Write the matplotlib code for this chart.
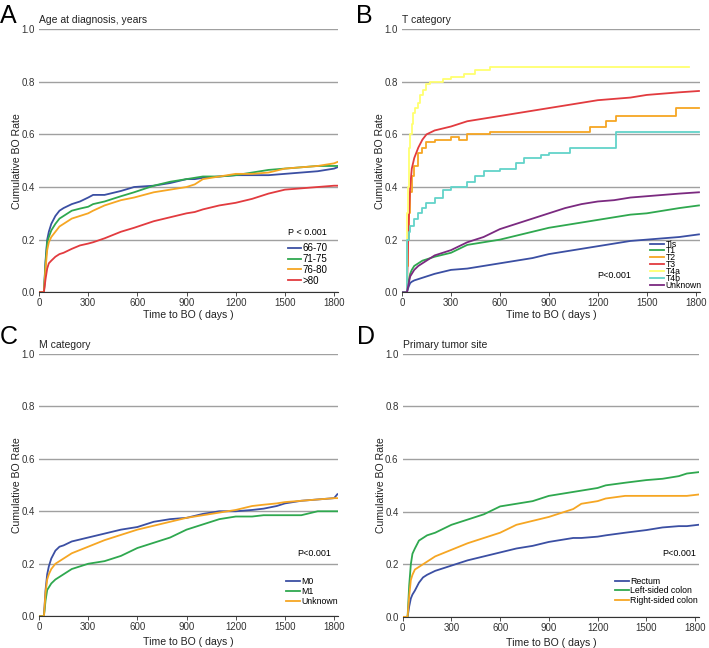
import matplotlib
matplotlib.use('Agg')
import matplotlib.pyplot as plt

plt.rcParams['font.family'] = ['Liberation Sans', 'DejaVu Sans']

BLUE = '#3b4fa3'
GREEN = '#2fa84f'
ORANGE = '#f6a623'
RED = '#e23b3f'
YELLOW = '#ffff70'
CYAN = '#62d3c9'
PURPLE = '#7b2a80'

# ---- Panel A: age at diagnosis
a_t = [0, 30, 40, 50, 60, 75, 100, 125, 150, 200, 250, 300, 330, 400, 500, 580, 700, 800, 900, 950,
       1000, 1100, 1200, 1300, 1400, 1500, 1600, 1700, 1800, 1820]
a_6670 = [0, 0, 0.12, 0.20, 0.23, 0.26, 0.29, 0.31, 0.32, 0.335, 0.345, 0.36, 0.37, 0.37, 0.385, 0.40,
          0.405, 0.415, 0.43, 0.43, 0.435, 0.44, 0.445, 0.445, 0.445, 0.45, 0.455, 0.46, 0.47, 0.475]
a_7175 = [0, 0, 0.11, 0.19, 0.21, 0.235, 0.26, 0.28, 0.29, 0.31, 0.318, 0.325, 0.335, 0.345, 0.365, 0.38,
          0.405, 0.42, 0.43, 0.435, 0.44, 0.44, 0.445, 0.455, 0.465, 0.47, 0.475, 0.48, 0.48, 0.48]
a_7680 = [0, 0, 0.09, 0.16, 0.19, 0.21, 0.23, 0.25, 0.26, 0.28, 0.29, 0.30, 0.31, 0.33, 0.35, 0.36,
          0.38, 0.39, 0.40, 0.41, 0.43, 0.44, 0.45, 0.45, 0.455, 0.47, 0.475, 0.48, 0.49, 0.495]
a_80 = [0, 0, 0.05, 0.09, 0.11, 0.12, 0.135, 0.145, 0.15, 0.165, 0.178, 0.185, 0.19, 0.205, 0.23, 0.245,
        0.27, 0.285, 0.30, 0.305, 0.315, 0.33, 0.34, 0.355, 0.375, 0.39, 0.395, 0.40, 0.405, 0.405]
a_labels = ['66-70', '71-75', '76-80', '>80']

# ---- Panel B: T category
b_t = [0, 30, 40, 50, 60, 75, 100, 125, 150, 200, 300, 400, 500, 600, 700, 800, 900, 1000, 1100, 1200,
       1300, 1400, 1500, 1600, 1700, 1820]
b_tis = [0, 0, 0.02, 0.035, 0.04, 0.045, 0.05, 0.055, 0.06, 0.07, 0.085, 0.09, 0.10, 0.11, 0.12, 0.13,
         0.145, 0.155, 0.165, 0.175, 0.185, 0.195, 0.20, 0.205, 0.21, 0.22]
b_t1 = [0, 0, 0.04, 0.07, 0.085, 0.10, 0.11, 0.12, 0.125, 0.135, 0.15, 0.18, 0.19, 0.20, 0.215, 0.23,
        0.245, 0.255, 0.265, 0.275, 0.285, 0.295, 0.30, 0.31, 0.32, 0.33]
b_t3 = [0, 0, 0.25, 0.40, 0.47, 0.51, 0.55, 0.58, 0.60, 0.615, 0.63, 0.65, 0.66, 0.67, 0.68, 0.69,
        0.70, 0.71, 0.72, 0.73, 0.735, 0.74, 0.75, 0.755, 0.76, 0.765]
b_unk = [0, 0, 0.03, 0.06, 0.07, 0.085, 0.10, 0.11, 0.12, 0.14, 0.16, 0.19, 0.21, 0.24, 0.26, 0.28,
         0.30, 0.32, 0.335, 0.345, 0.35, 0.36, 0.365, 0.37, 0.375, 0.38]
# stepped series (step levels after each time)
b_t2_t = [0, 30, 35, 40, 50, 60, 75, 100, 125, 150, 200, 300, 350, 400, 540, 1150, 1250, 1310, 1680, 1820]
b_t2 = [0, 0.1, 0.2, 0.3, 0.38, 0.44, 0.48, 0.53, 0.55, 0.57, 0.58, 0.59, 0.58, 0.60, 0.61, 0.63, 0.65,
        0.67, 0.70, 0.70]
b_t4a_t = [0, 30, 33, 36, 40, 45, 50, 60, 70, 80, 95, 110, 130, 150, 170, 250, 300, 380, 450, 540, 1760]
b_t4a = [0, 0.15, 0.3, 0.4, 0.48, 0.55, 0.6, 0.64, 0.68, 0.7, 0.72, 0.75, 0.77, 0.79, 0.80, 0.81, 0.82,
         0.83, 0.845, 0.855, 0.855]
b_t4b_t = [0, 30, 40, 50, 75, 100, 125, 150, 200, 250, 300, 400, 450, 500, 600, 700, 750, 850, 900,
           1030, 1310, 1820]
b_t4b = [0, 0.20, 0.23, 0.25, 0.28, 0.30, 0.32, 0.34, 0.36, 0.39, 0.40, 0.42, 0.44, 0.46, 0.47, 0.49,
         0.51, 0.52, 0.53, 0.55, 0.61, 0.61]
b_labels = ['Tis', 'T1', 'T2', 'T3', 'T4a', 'T4b', 'Unknown']

# ---- Panel C: M category
c_t = [0, 30, 40, 50, 60, 75, 100, 125, 150, 200, 300, 400, 500, 600, 700, 800, 900, 1000, 1100, 1200,
       1300, 1370, 1450, 1500, 1600, 1700, 1800, 1820]
c_m0 = [0, 0, 0.10, 0.16, 0.19, 0.22, 0.25, 0.265, 0.27, 0.285, 0.30, 0.315, 0.33, 0.34, 0.36, 0.37,
        0.375, 0.39, 0.40, 0.40, 0.405, 0.41, 0.42, 0.43, 0.44, 0.445, 0.45, 0.465]
c_m1 = [0, 0, 0.06, 0.10, 0.11, 0.125, 0.14, 0.15, 0.16, 0.18, 0.20, 0.21, 0.23, 0.26, 0.28, 0.30,
        0.33, 0.35, 0.37, 0.38, 0.38, 0.385, 0.385, 0.385, 0.385, 0.40, 0.40, 0.40]
c_unk = [0, 0, 0.09, 0.14, 0.16, 0.18, 0.20, 0.21, 0.22, 0.24, 0.265, 0.29, 0.31, 0.33, 0.345, 0.36,
         0.375, 0.385, 0.395, 0.405, 0.42, 0.425, 0.43, 0.435, 0.44, 0.445, 0.45, 0.45]
c_labels = ['M0', 'M1', 'Unknown']

# ---- Panel D: primary tumor site
d_t = [0, 30, 40, 50, 60, 75, 100, 125, 150, 200, 300, 400, 500, 600, 700, 800, 900, 1000, 1050, 1100,
       1200, 1250, 1370, 1500, 1600, 1700, 1750, 1820]
d_rect = [0, 0, 0.04, 0.07, 0.085, 0.10, 0.13, 0.15, 0.16, 0.175, 0.195, 0.215, 0.23, 0.245, 0.26, 0.27,
          0.285, 0.295, 0.30, 0.30, 0.305, 0.31, 0.32, 0.33, 0.34, 0.345, 0.345, 0.35]
d_left = [0, 0, 0.12, 0.20, 0.24, 0.26, 0.29, 0.30, 0.31, 0.32, 0.35, 0.37, 0.39, 0.42, 0.43, 0.44,
          0.46, 0.47, 0.475, 0.48, 0.49, 0.50, 0.51, 0.52, 0.525, 0.535, 0.545, 0.55]
d_right = [0, 0, 0.08, 0.14, 0.16, 0.18, 0.19, 0.20, 0.21, 0.23, 0.255, 0.28, 0.30, 0.32, 0.35, 0.365,
           0.38, 0.40, 0.41, 0.43, 0.44, 0.45, 0.46, 0.46, 0.46, 0.46, 0.46, 0.465]
d_labels = ['Rectum', 'Left-sided colon', 'Right-sided colon']

W, H = 709, 648
fig = plt.figure(figsize=(7.09, 6.48), dpi=100)
axA = fig.add_axes([0.055, 0.549, 0.422, 0.406])
axB = fig.add_axes([0.567, 0.549, 0.420, 0.406])
axC = fig.add_axes([0.055, 0.049, 0.422, 0.405])
axD = fig.add_axes([0.568, 0.048, 0.418, 0.406])


def style(ax, letter, lx, ly, title, xpad):
    ax.set_xlim(0, 1825)
    ax.set_ylim(0, 1.0)
    ax.set_xticks([0, 300, 600, 900, 1200, 1500, 1800])
    ax.set_yticks([0, 0.2, 0.4, 0.6, 0.8, 1.0])
    ax.set_yticklabels(['0.0', '0.2', '0.4', '0.6', '0.8', '1.0'])
    for s in ['top', 'right', 'left']:
        ax.spines[s].set_visible(False)
    ax.spines['bottom'].set_color('#333333')
    ax.spines['bottom'].set_linewidth(0.8)
    ax.tick_params(axis='y', length=0, labelsize=7, pad=3, colors='#333333')
    ax.tick_params(axis='x', length=3, labelsize=7, width=0.6, colors='#333333', pad=1.5)
    ax.grid(axis='y', color='#a0a0a0', lw=1.0)
    ax.set_axisbelow(True)
    ax.set_xlabel('Time to BO ( days )', fontsize=7.6, labelpad=xpad, color='#222222')
    ax.set_ylabel('Cumulative BO Rate', fontsize=7.6, labelpad=-0.5, color='#222222')
    fig.text(lx / W, 1 - ly / H, letter, fontsize=18, va='baseline', ha='left')
    ax.text(0.0, 1.035, title, transform=ax.transAxes, fontsize=7.5, va='center', ha='left', color='#222222')


def legend(ax, anchor, fs, hl):
    ax.legend(loc='lower right', bbox_to_anchor=anchor, frameon=False, fontsize=fs, handlelength=hl,
              handletextpad=0.15, labelspacing=0.08, borderpad=0.0, borderaxespad=0.0)


# A
for y, c, lab in zip([a_6670, a_7175, a_7680, a_80], [BLUE, GREEN, ORANGE, RED], a_labels):
    axA.plot(a_t, y, color=c, lw=1.3, label=lab)
style(axA, 'A', 0, 23, 'Age at diagnosis, years', 1)
axA.text(0.963, 0.228, 'P < 0.001', transform=axA.transAxes, fontsize=6.5, ha='right', va='center')
legend(axA, (0.965, 0.025), 7, 1.4)

# B
axB.plot(b_t, b_tis, color=BLUE, lw=1.3, label=b_labels[0])
axB.plot(b_t, b_t1, color=GREEN, lw=1.3, label=b_labels[1])
axB.step(b_t2_t, b_t2, where='post', color=ORANGE, lw=1.3, label=b_labels[2])
axB.plot(b_t, b_t3, color=RED, lw=1.3, label=b_labels[3])
axB.step(b_t4a_t, b_t4a, where='post', color=YELLOW, lw=1.3, label=b_labels[4])
axB.step(b_t4b_t, b_t4b, where='post', color=CYAN, lw=1.3, label=b_labels[5])
axB.plot(b_t, b_unk, color=PURPLE, lw=1.3, label=b_labels[6])
style(axB, 'B', 356, 23, 'T category', 1)
axB.text(0.655, 0.065, 'P<0.001', transform=axB.transAxes, fontsize=6.5, ha='left', va='center')
axB.legend(loc='lower right', bbox_to_anchor=(1.007, 0.008), frameon=False, fontsize=6.2, handlelength=1.7,
           handletextpad=0.15, labelspacing=-0.24, borderpad=0.0, borderaxespad=0.0)

# C
for y, c, lab in zip([c_m0, c_m1, c_unk], [BLUE, GREEN, ORANGE], c_labels):
    axC.plot(c_t, y, color=c, lw=1.3, label=lab)
style(axC, 'C', 0, 344, 'M category', 3.5)
axC.text(0.975, 0.24, 'P<0.001', transform=axC.transAxes, fontsize=6.5, ha='right', va='center')
legend(axC, (0.998, 0.04), 6.3, 1.6)

# D
for y, c, lab in zip([d_rect, d_left, d_right], [BLUE, GREEN, ORANGE], d_labels):
    axD.plot(d_t, y, color=c, lw=1.3, label=lab)
style(axD, 'D', 357, 344, 'Primary tumor site', 3.5)
axD.text(0.99, 0.24, 'P<0.001', transform=axD.transAxes, fontsize=6.5, ha='right', va='center')
legend(axD, (0.995, 0.045), 6.3, 1.6)

fig.savefig('out.png', dpi=100)
